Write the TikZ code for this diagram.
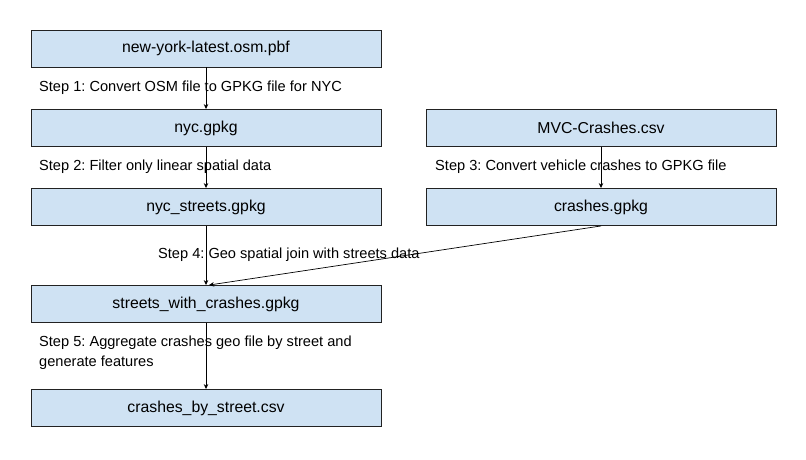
\documentclass[tikz,border=0pt]{standalone}
\usepackage{fontspec}
\setmainfont{Liberation Sans}
\usetikzlibrary{arrows.meta}
\definecolor{boxblue}{HTML}{CFE2F3}
\definecolor{edgegray}{HTML}{222222}
\frenchspacing

\begin{document}
\begin{tikzpicture}[x=1pt, y=-1pt,
    filebox/.style={rectangle, draw=edgegray, line width=0.9pt, fill=boxblue,
      minimum width=350pt, minimum height=37pt, inner sep=0pt, font=\fontsize{15.8}{18}\selectfont},
    steplabel/.style={anchor=west, inner sep=0pt, align=left, font=\fontsize{14.6}{20}\selectfont},
    flow/.style={-{Stealth[length=5pt, width=4.5pt]}, line width=0.7pt}]
    \useasboundingbox (0,0) rectangle (806,459);
    \node[filebox] (osm) at (206,48.5) {new-york-latest.osm.pbf};
    \node[filebox] (nyc) at (206,128) {nyc.gpkg};
    \node[filebox] (mvc) at (601,128) {MVC-Crashes.csv};
    \node[filebox] (streets) at (206,207) {nyc\_streets.gpkg};
    \node[filebox] (crashes) at (601,207) {crashes.gpkg};
    \node[filebox] (joined) at (206,304) {streets\_with\_crashes.gpkg};
    \node[filebox] (bystreet) at (206,408) {crashes\_by\_street.csv};
    % step texts
    \node[steplabel] (s1) at (39,88) {Step 1: Convert OSM file to GPKG file for NYC};
    \node[steplabel] (s2) at (39,167) {Step 2: Filter only linear spatial data};
    \node[steplabel] (s3) at (435,167) {Step 3: Convert vehicle crashes to GPKG file};
    \node[steplabel] (s4) at (158,255) {Step 4: Geo spatial join with streets data};
    \node[steplabel] (s5) at (39,353) {Step 5: Aggregate crashes geo file by street and\\generate features};
    \draw[flow] (osm) -- (nyc);
    \draw[flow] (nyc) -- (streets);
    \draw[flow] (mvc) -- (crashes);
    \draw[flow] (streets) -- (joined);
    \draw[flow] (crashes.south) -- ([xshift=3pt]joined.north);
    \draw[flow] (joined) -- (bystreet);
\end{tikzpicture}
\end{document}
